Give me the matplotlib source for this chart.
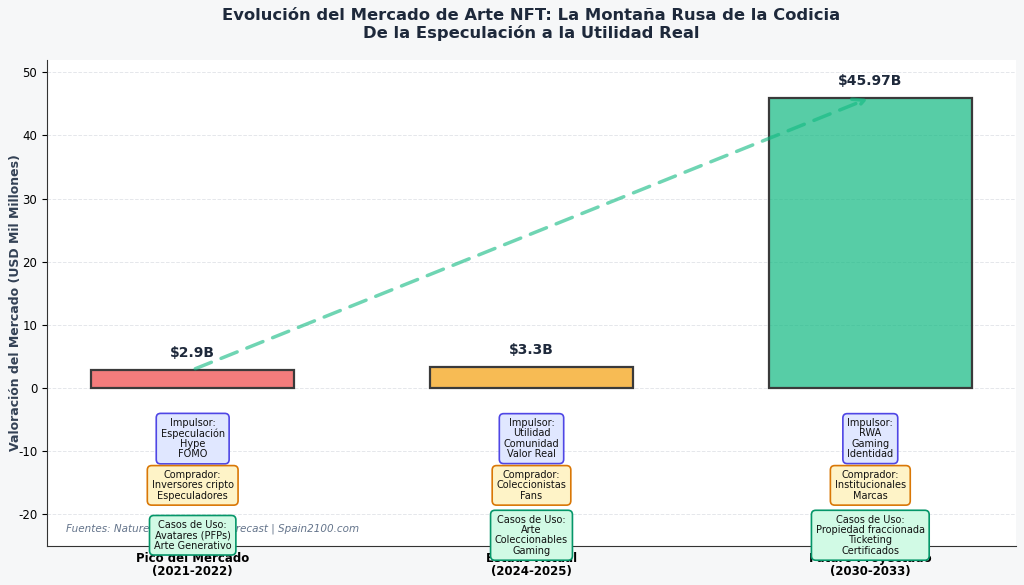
import matplotlib
matplotlib.use("Agg")
import matplotlib.pyplot as plt

plt.rcParams["axes.unicode_minus"] = False

categories = ["Pico del Mercado\n(2021-2022)", "Estado Actual\n(2024-2025)", "Futuro Proyectado\n(2030-2033)"]
values = [2.9, 3.3, 45.97]
value_labels = ["$2.9B", "$3.3B", "$45.97B"]
impulsores = ["Impulsor:\nEspeculación\nHype\nFOMO", "Impulsor:\nUtilidad\nComunidad\nValor Real", "Impulsor:\nRWA\nGaming\nIdentidad"]
compradores = ["Comprador:\nInversores cripto\nEspeculadores", "Comprador:\nColeccionistas\nFans", "Comprador:\nInstitucionales\nMarcas"]
casos = ["Casos de Uso:\nAvatares (PFPs)\nArte Generativo", "Casos de Uso:\nArte\nColeccionables\nGaming", "Casos de Uso:\nPropiedad fraccionada\nTicketing\nCertificados"]

bar_colors = ["#ef4444", "#f59e0b", "#10b981"]

fig = plt.figure(figsize=(10.24, 5.85), dpi=100, facecolor="#f6f7f8")
ax = fig.add_axes([47/1024, 1-546/585, (1016-47)/1024, (546-60)/585])
ax.set_facecolor("white")

x = list(range(len(categories)))
for i in x:
    ax.bar(i, values[i], width=0.6, color=bar_colors[i], alpha=0.7,
           edgecolor="none", zorder=3)
    ax.bar(i, values[i], width=0.6, fill=False, edgecolor="#3a3a3a", linewidth=1.6, zorder=4)

vmax = max(values)
for i in x:
    ax.text(i, values[i] + vmax * 0.035, value_labels[i], ha="center", va="bottom",
            fontsize=10, fontweight="bold", color="#1e293b", zorder=5)

ax.annotate("", xy=(2, values[2]), xytext=(0, values[0]),
            arrowprops=dict(arrowstyle="->", color="#10b981", lw=2.5, alpha=0.6,
                            linestyle=(0, (5, 3)), mutation_scale=20), zorder=6)

ax.set_ylim(-25, vmax * 1.13)
ax.set_xlim(-0.43, 2.43)
ax.set_xticks(x)
ax.set_xticklabels(categories, fontsize=8.5, fontweight="bold", linespacing=1.0)
ax.tick_params(axis="x", length=0, pad=4)
ax.tick_params(axis="y", labelsize=8.5)
ax.set_ylabel("Valoración del Mercado (USD Mil Millones)", fontsize=9, fontweight="bold", color="#334155")
ax.yaxis.set_label_coords(-0.026, 0.5)
ax.set_title("Evolución del Mercado de Arte NFT: La Montaña Rusa de la Codicia\nDe la Especulación a la Utilidad Real",
             fontsize=11.8, fontweight="bold", color="#1e293b", pad=16, linespacing=1.1)
ax.yaxis.grid(True, linestyle="--", color="#e5e7eb", linewidth=0.7, zorder=0)
ax.set_axisbelow(True)
for s in ["top", "right"]:
    ax.spines[s].set_visible(False)
ax.spines["left"].set_color("#333333")
ax.spines["bottom"].set_color("#333333")

ax.text(0.02, 0.03, "Fuentes: Nature, Market Data Forecast | Spain2100.com", transform=ax.transAxes,
        fontsize=7.5, style="italic", color="#64748b", zorder=2)

for i in x:
    ax.text(i, -8.0, impulsores[i], ha="center", va="center", fontsize=7, color="#111111",
            bbox=dict(boxstyle="round,pad=0.45", facecolor="#e0e7ff", edgecolor="#4f46e5", linewidth=1.2),
            zorder=7, clip_on=False, linespacing=1.05)
    ax.text(i, -15.4, compradores[i], ha="center", va="center", fontsize=7, color="#111111",
            bbox=dict(boxstyle="round,pad=0.45", facecolor="#fef3c7", edgecolor="#d97706", linewidth=1.2),
            zorder=7, clip_on=False, linespacing=1.05)
    ax.text(i, -23.3, casos[i], ha="center", va="center", fontsize=7, color="#111111",
            bbox=dict(boxstyle="round,pad=0.45", facecolor="#d1fae5", edgecolor="#059669", linewidth=1.2),
            zorder=7, clip_on=False, linespacing=1.05)

fig.savefig("out.png", dpi=100, facecolor=fig.get_facecolor())
